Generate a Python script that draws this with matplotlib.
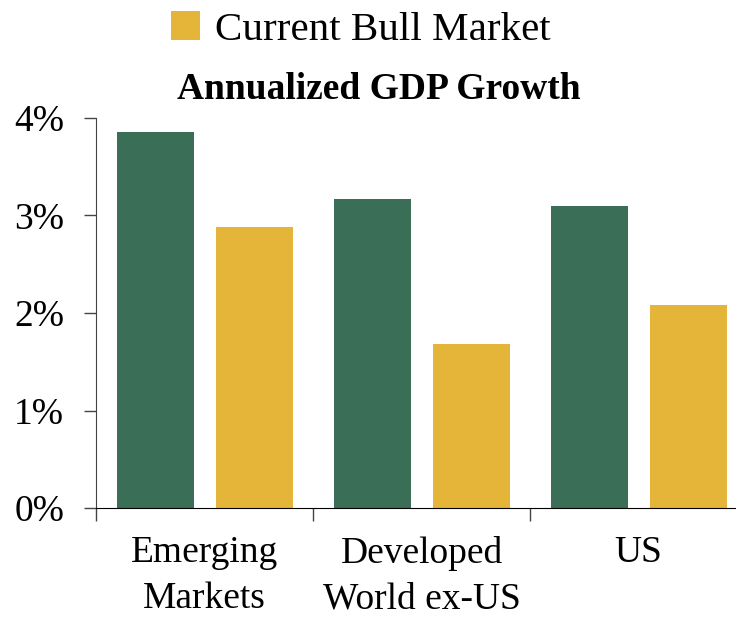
import matplotlib.pyplot as plt
import numpy as np

# GDP growth per region, two bull-market periods
regions = ["Emerging\nMarkets", "Developed\nWorld ex-US", "US"]
average_bull = [3.86, 3.17, 3.10]
current_bull = [2.88, 1.68, 2.08]
y_ticks = [0, 1, 2, 3, 4]
y_labels = ["0%", "1%", "2%", "3%", "4%"]

green = "#3b6e57"
gold = "#e5b53a"

plt.rcParams['font.family'] = ['Liberation Serif', 'DejaVu Serif']

fig = plt.figure(figsize=(7.36, 6.18), dpi=100)
ax = fig.add_axes([96 / 736, 110 / 618, 651 / 736, 390 / 618])

x = np.arange(len(regions))
w = 0.355
ax.bar(x - 0.226, average_bull, width=w, color=green, label="Average Bull Market")
bars_cur = ax.bar(x + 0.230, current_bull, width=w, color=gold, label="Current Bull Market")

ax.set_xlim(-0.5, len(regions) - 0.5)
ax.set_ylim(0, 4)

ax.set_yticks(y_ticks)
ax.set_yticklabels(y_labels, fontsize=27)
ax.tick_params(axis='y', length=9, width=1, color="#444444", pad=14)

# category boundaries get the tick marks, names sit between them
ax.set_xticks(np.arange(len(regions) + 1) - 0.5)
ax.set_xticklabels([])
ax.set_xticks(x, minor=True)
ax.set_xticklabels(regions, minor=True, fontsize=27, linespacing=1.42)
ax.tick_params(axis='x', which='major', length=9, width=1, color="#444444")
ax.tick_params(axis='x', which='minor', length=0, pad=20)

for s in ["top", "right"]:
    ax.spines[s].set_visible(False)
ax.spines["left"].set_color("#444444")
ax.spines["bottom"].set_color("black")

ax.set_title("Annualized GDP Growth", fontsize=27, fontweight="bold",
             x=0.435, pad=14)

fig.legend(handles=[bars_cur], loc="center", bbox_to_anchor=(0.49, 0.952),
           frameon=False, fontsize=29.5, handlelength=0.72, handleheight=0.72,
           handletextpad=0.35)

fig.savefig("out.png", dpi=100)
